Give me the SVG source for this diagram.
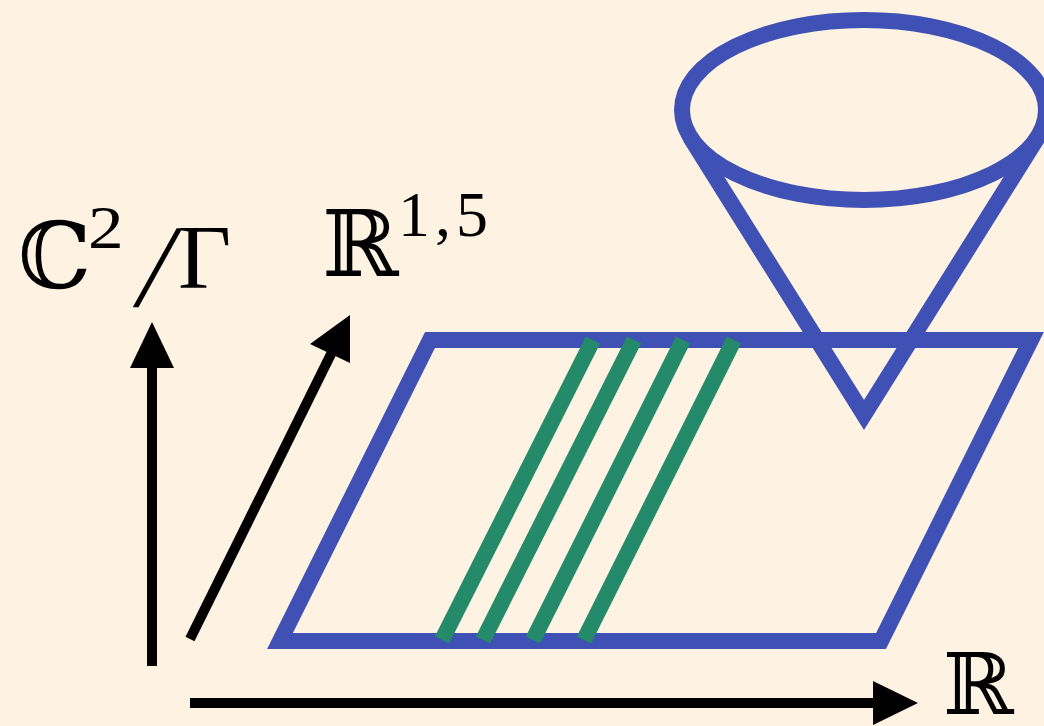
<svg xmlns="http://www.w3.org/2000/svg" width="1044" height="726" viewBox="0 0 1044 726">
<style>
.blue{fill:none;stroke:#3F51B5;stroke-width:16;stroke-linejoin:miter;stroke-miterlimit:10}
.green{fill:none;stroke:#248A6A;stroke-width:16;stroke-linecap:butt}
.axis{fill:none;stroke:#000;stroke-width:10}
.head{fill:#000}
.lbl{font-family:"DejaVu Serif","Liberation Serif",serif;fill:#000}
.cm{font-family:"Liberation Serif","DejaVu Serif",serif;fill:#000}
</style>
<rect x="0" y="0" width="1044" height="726" fill="#FEF3E2"/>
<g id="plane">
<polygon class="blue" points="430,340 1031,340 881,641 280,641"/>
</g>
<g id="branes">
<line class="green" x1="593" y1="340" x2="442" y2="640"/>
<line class="green" x1="634" y1="340" x2="483" y2="640"/>
<line class="green" x1="683" y1="340" x2="533" y2="640"/>
<line class="green" x1="734" y1="340" x2="584" y2="640"/>
</g>
<g id="cone">
<ellipse class="blue" cx="864" cy="110" rx="182" ry="90"/>
<polyline class="blue" points="690,137 864,415 1038,137"/>
</g>
<g id="axes">
<line class="axis" x1="152" y1="666" x2="152" y2="362"/>
<polygon class="head" points="152,322 130,368 174,368"/>
<line class="axis" x1="190" y1="639" x2="333" y2="350"/>
<polygon class="head" points="350,315 310,344 350,363"/>
<line class="axis" x1="190" y1="703" x2="878" y2="703"/>
<polygon class="head" points="918,703 873,681 873,725"/>
</g>
<g id="labels">
<text class="lbl" x="18" y="288" font-size="92">ℂ</text>
<text class="cm" x="88" y="248" font-size="62" transform="translate(88,248) scale(1.15,1) translate(-88,-248)">2</text>
<text class="cm" transform="translate(133,306) skewX(-12)" font-size="118">/</text>
<text class="cm" x="178" y="288" font-size="92">Γ</text>
<text class="lbl" x="322" y="276" font-size="92">ℝ</text>
<text class="cm" x="398" y="236" font-size="64" letter-spacing="5">1,5</text>
<text class="lbl" x="943" y="714" font-size="85">ℝ</text>
</g>
</svg>
